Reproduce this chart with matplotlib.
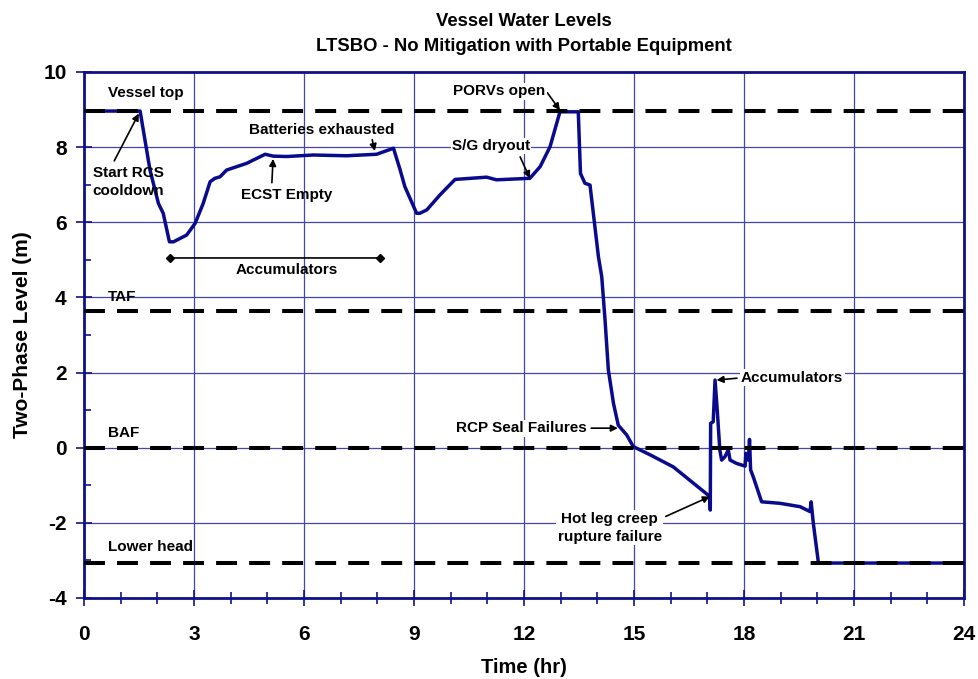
import matplotlib
matplotlib.use("Agg")
import matplotlib.pyplot as plt
from matplotlib.ticker import MultipleLocator

plt.rcParams['font.family'] = ['Liberation Sans', 'DejaVu Sans']
plt.rcParams['font.weight'] = 'bold'
plt.rcParams['axes.unicode_minus'] = False

# Time (hr) and two-phase level (m)
time_hr = [0.0, 1.53, 1.8, 2.03, 2.16, 2.33, 2.44, 2.62, 2.80, 3.03, 3.25, 3.44, 3.57,
           3.71, 3.89, 4.44, 4.94, 5.16, 5.53, 6.25, 7.16, 7.98, 8.44, 8.62, 8.75,
           8.89, 9.07, 9.16, 9.35, 9.71, 10.12, 10.98, 11.25, 12.16, 12.44, 12.71,
           12.98, 13.48, 13.54, 13.66, 13.80, 14.03, 14.12, 14.21, 14.30, 14.44,
           14.57, 14.80, 14.98, 15.44, 16.07, 17.07, 17.08, 17.09, 17.16, 17.21,
           17.27, 17.34, 17.39, 17.48, 17.57, 17.62, 17.80, 18.03, 18.05, 18.12,
           18.15, 18.18, 18.25, 18.48, 18.98, 19.53, 19.80, 19.83, 19.89, 20.03, 24.0]
level_m = [8.96, 8.96, 7.39, 6.50, 6.24, 5.48, 5.48, 5.57, 5.66, 5.97, 6.50, 7.08, 7.17,
           7.21, 7.39, 7.57, 7.81, 7.76, 7.75, 7.79, 7.77, 7.81, 7.97, 7.40, 6.95,
           6.64, 6.24, 6.24, 6.33, 6.73, 7.14, 7.20, 7.13, 7.17, 7.48, 8.01,
           8.94, 8.94, 7.30, 7.04, 6.99, 5.08, 4.55, 3.40, 2.07, 1.18,
           0.60, 0.34, 0.03, -0.19, -0.51, -1.30, -1.66, 0.65, 0.69, 1.80,
           1.00, -0.06, -0.33, -0.24, -0.06, -0.33, -0.42, -0.49, -0.15, -0.33,
           0.22, -0.59, -0.77, -1.44, -1.48, -1.57, -1.70, -1.44, -2.01, -3.07, -3.07]

ref_levels = [8.96, 3.64, 0.0, -3.07]
ref_names = ["Vessel top", "TAF", "BAF", "Lower head"]
ref_label_y = [9.45, 4.0, 0.39, -2.64]

x_ticks = [0, 3, 6, 9, 12, 15, 18, 21, 24]
y_ticks = [-4, -2, 0, 2, 4, 6, 8, 10]

navy = "#10108a"
grid_c = "#4646a8"

fig = plt.figure(figsize=(9.79, 6.79), dpi=100)
ax = fig.add_axes([0.0858, 0.1193, 0.8989, 0.7747])

ax.plot(time_hr, level_m, color="#0a0a8c", lw=2.5, zorder=3, solid_joinstyle='round')
for lv in ref_levels:
    ax.axhline(lv, color="black", lw=2.9, dashes=(5.2, 3.0), zorder=4)
for name, yl in zip(ref_names, ref_label_y):
    ax.text(0.65, yl, name, fontsize=11, fontweight='bold', ha='left', va='center', zorder=5)

ax.set_xlim(0, 24)
ax.set_ylim(-4, 10)
ax.set_xticks(x_ticks)
ax.set_yticks(y_ticks)
ax.xaxis.set_minor_locator(MultipleLocator(1))
ax.yaxis.set_minor_locator(MultipleLocator(1))
ax.tick_params(which='major', direction='inout', length=11, width=1.2, color=navy,
               labelsize=15)
ax.tick_params(axis='x', which='major', pad=14)
ax.tick_params(axis='y', which='major', pad=7)
ax.tick_params(axis='x', which='minor', direction='inout', length=8, width=1.2, color=navy)
ax.tick_params(axis='y', which='minor', direction='in', length=5, width=1.2, color=navy)
for lab in ax.get_xticklabels() + ax.get_yticklabels():
    lab.set_fontweight('bold')
ax.grid(True, which='major', color=grid_c, lw=0.9)
for sp in ax.spines.values():
    sp.set_color(navy)
    sp.set_linewidth(2)

ax.set_xlabel("Time (hr)", fontsize=14.5, fontweight='bold', labelpad=10)
ax.set_ylabel("Two-Phase Level (m)", fontsize=15, fontweight='bold', labelpad=8)
ax.set_title("Vessel Water Levels\nLTSBO - No Mitigation with Portable Equipment",
             fontsize=13.3, fontweight='bold', pad=15, linespacing=1.6)

fs = 11
arrow = dict(arrowstyle='-|>', color='black', lw=1.2, mutation_scale=10)
bbox = dict(facecolor='white', edgecolor='none', pad=1)

ax.annotate("Start RCS\ncooldown", xy=(1.53, 8.96), xytext=(1.2, 7.07), fontsize=fs,
            fontweight='bold', ha='center', va='center', zorder=6, linespacing=1.35,
            arrowprops=dict(arrow, relpos=(0.27, 1.0)))
ax.annotate("Batteries exhausted", xy=(7.94, 7.86), xytext=(6.49, 8.46), fontsize=fs,
            fontweight='bold', ha='center', va='center', zorder=6,
            arrowprops=dict(arrow, relpos=(0.84, 0.05), shrinkA=0, shrinkB=1))
ax.annotate("ECST Empty", xy=(5.16, 7.76), xytext=(5.54, 6.72), fontsize=fs,
            fontweight='bold', ha='center', va='center', zorder=6,
            arrowprops=dict(arrow, relpos=(0.33, 1.0)))
ax.annotate("", xy=(2.35, 5.05), xytext=(8.07, 5.05),
            arrowprops=dict(arrowstyle='-', color='black', lw=1.2), zorder=6)
ax.plot([2.35, 8.07], [5.05, 5.05], ls='none', marker='D', ms=4.5, color='black', zorder=6)
ax.text(5.54, 4.74, "Accumulators", fontsize=fs, fontweight='bold', ha='center',
        va='center', zorder=6)
ax.annotate("PORVs open", xy=(12.98, 8.98), xytext=(11.32, 9.49), fontsize=fs,
            fontweight='bold', ha='center', va='center', zorder=6,
            arrowprops=dict(arrow, relpos=(1.0, 0.6), shrinkA=1, shrinkB=0), bbox=bbox)
ax.annotate("S/G dryout", xy=(12.16, 7.17), xytext=(11.1, 8.03), fontsize=fs,
            fontweight='bold', ha='center', va='center', zorder=6,
            arrowprops=dict(arrow, relpos=(0.85, 0.0), shrinkB=0), bbox=bbox)
ax.annotate("RCP Seal Failures", xy=(14.56, 0.52), xytext=(13.72, 0.52), fontsize=fs,
            fontweight='bold', ha='right', va='center', zorder=6,
            arrowprops=dict(arrow, relpos=(1.0, 0.5), shrinkB=0), bbox=bbox)
ax.annotate("Accumulators", xy=(17.25, 1.80), xytext=(17.92, 1.86), fontsize=fs,
            fontweight='bold', ha='left', va='center', zorder=6,
            arrowprops=dict(arrow, relpos=(0.0, 0.5), shrinkB=0), bbox=bbox)
ax.annotate("Hot leg creep\nrupture failure", xy=(17.07, -1.3), xytext=(14.34, -2.13),
            fontsize=fs, fontweight='bold', ha='center', va='center', zorder=6,
            linespacing=1.35,
            arrowprops=dict(arrow, relpos=(1.0, 0.8), shrinkB=0), bbox=bbox)

fig.savefig("out.png", dpi=100)
